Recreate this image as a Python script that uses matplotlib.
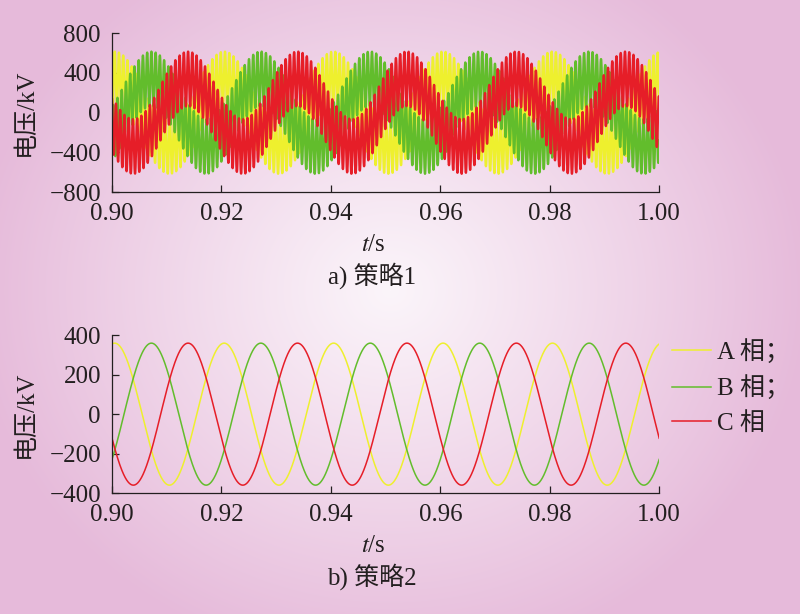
import numpy as np
import matplotlib
matplotlib.use("Agg")
import matplotlib.pyplot as plt
from matplotlib.font_manager import FontProperties

plt.rcParams['font.family'] = ['Liberation Serif', 'Noto Sans CJK SC']
plt.rcParams['mathtext.fontset'] = 'stix'

# values
phase_labels = ['A 相；', 'B 相；', 'C 相']
phase_colors = ['#eef02e', '#62bd2c', '#e61e28']
peak_times = [0.9005, 0.9072, 0.9139]   # first positive peak of each phase (s)
base_freq = 50.0                        # Hz
amp_s2 = [360, 360, 360]                # strategy 2 amplitude (kV)
amp_s1_fund = [340, 340, 340]           # strategy 1 fundamental (kV)
amp_s1_hf = [275, 275, 275]             # strategy 1 high frequency ripple (kV)
hf_freq = 1290.0                        # Hz
t_start, t_end = 0.90, 1.00

xticks = [0.90, 0.92, 0.94, 0.96, 0.98, 1.00]
yticks_a = [-800, -400, 0, 400, 800]
yticks_b = [-400, -200, 0, 200, 400]

ink = '#231f20'
fs = 18

t = np.linspace(t_start, t_end, 6001)

fig = plt.figure(figsize=(8.0, 6.14), dpi=100)

# pink radial background
H, W = 614, 800
yy, xx = np.mgrid[0:H, 0:W]
d = np.sqrt(((xx - 390) / 420.0) ** 2 + ((yy - 290) / 380.0) ** 2)
d = np.clip(d, 0, 1) ** 1.05
c0 = np.array([251, 245, 250]) / 255.0
c1 = np.array([230, 186, 218]) / 255.0
bg = c0[None, None, :] + (c1 - c0)[None, None, :] * d[:, :, None]
fig.figimage(bg, xo=0, yo=0, origin='upper', zorder=-10)
fig.patch.set_alpha(0)

ax1 = fig.add_axes([0.14, 0.687, 0.684, 0.259])
ax2 = fig.add_axes([0.14, 0.197, 0.684, 0.257])


def style(ax, yticks):
    ax.set_facecolor('none')
    for s in ['top', 'right']:
        ax.spines[s].set_visible(False)
    for s in ['left', 'bottom']:
        ax.spines[s].set_color(ink)
        ax.spines[s].set_linewidth(0.9)
    ax.set_xlim(t_start, t_end)
    ax.set_ylim(yticks[0], yticks[-1])
    ax.set_xticks(xticks)
    ax.set_xticklabels(['%.2f' % v for v in xticks])
    ax.set_yticks(yticks)
    ax.tick_params(direction='in', length=5, width=0.9, colors=ink,
                   labelsize=fs, pad=8)
    ax.set_ylabel('电压/kV', fontsize=fs, color=ink, labelpad=9)


# strategy 1: fundamental with high frequency ripple
for k in range(3):
    w = 2 * np.pi * base_freq * (t - peak_times[k])
    wh = 2 * np.pi * hf_freq * (t - peak_times[k])
    v = amp_s1_fund[k] * np.cos(w) + amp_s1_hf[k] * np.cos(wh)
    ax1.plot(t, v, color=phase_colors[k], lw=1.7)
style(ax1, yticks_a)

# strategy 2: clean sine
for k in range(3):
    w = 2 * np.pi * base_freq * (t - peak_times[k])
    ax2.plot(t, amp_s2[k] * np.cos(w), color=phase_colors[k], lw=1.1,
             label=phase_labels[k])
style(ax2, yticks_b)

leg = ax2.legend(loc='upper left', bbox_to_anchor=(1.024, 0.975),
                 frameon=False, handlelength=1.55, handletextpad=0.25,
                 borderaxespad=0, borderpad=0, labelspacing=0.45,
                 prop=FontProperties(family=['Liberation Serif', 'Noto Sans CJK SC'], size=fs))
for txt in leg.get_texts():
    txt.set_color(ink)

fig.text(373 / 800, 1 - 245 / 614, '$t$/s', ha='center', va='center', fontsize=fs, color=ink)
fig.text(372 / 800, 1 - 276 / 614, 'a) 策略1', ha='center', va='center', fontsize=fs, color=ink)
fig.text(373 / 800, 1 - 546 / 614, '$t$/s', ha='center', va='center', fontsize=fs, color=ink)
fig.text(372 / 800, 1 - 577 / 614, 'b) 策略2', ha='center', va='center', fontsize=fs, color=ink)

fig.savefig('out.png', dpi=100)
